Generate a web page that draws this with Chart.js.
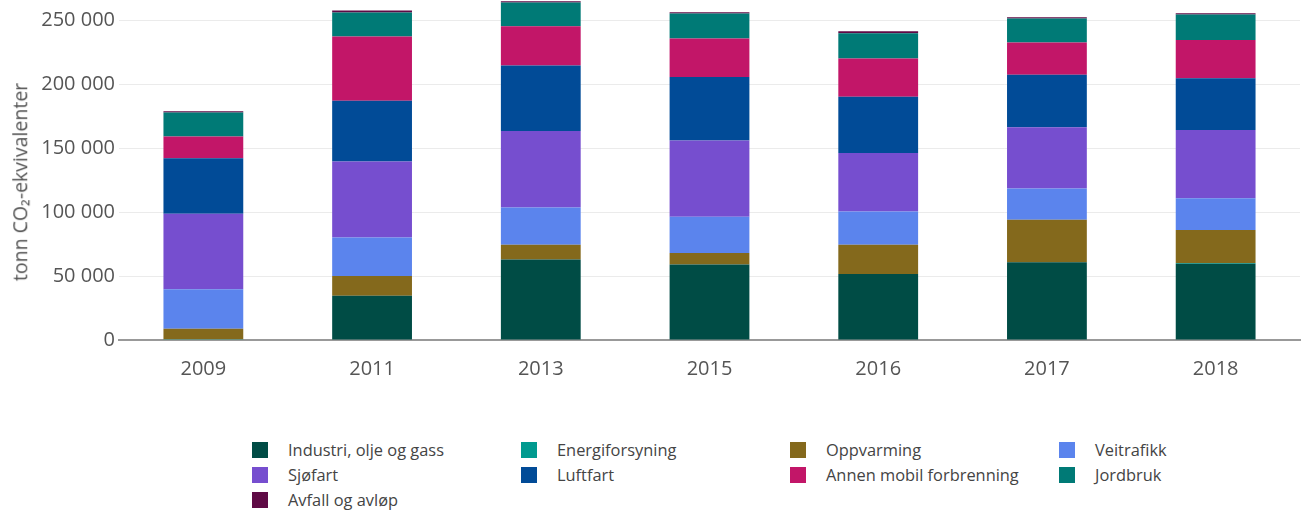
<!DOCTYPE html>
<html>
<head>
<meta charset="utf-8">
<script src="https://cdn.jsdelivr.net/npm/chart.js@4"></script>
<style>
  html, body { margin: 0; padding: 0; background: #fff; }
  #wrap { position: relative; width: 1305px; height: 512px; overflow: hidden; font-family: "Open Sans", sans-serif; }
  #cbox { position: absolute; left: 0; top: -15px; width: 1305px; height: 413px; }
  #ytitle { position: absolute; left: 20px; top: 182px; transform: translate(-50%, -50%) rotate(-90deg); font-size: 19.5px; color: #555; white-space: nowrap; line-height: 1; }
  #legend { position: absolute; left: 252px; top: 440px; display: grid; grid-template-columns: 269px 269px 269px 200px; row-gap: 6px; }
  .li { display: flex; align-items: center; height: 19px; font-size: 16.4px; color: #444; white-space: nowrap; }
  .sw { width: 16px; height: 16px; margin-right: 20px; flex: none; }
</style>
</head>
<body>
<div id="wrap">
  <div id="cbox"><canvas id="c"></canvas></div>
  <div id="ytitle">tonn CO₂-ekvivalenter</div>
  <div id="legend"></div>
</div>
<script>
const categories = ['2009', '2011', '2013', '2015', '2016', '2017', '2018'];
const seriesNames = ['Industri, olje og gass', 'Energiforsyning', 'Oppvarming', 'Veitrafikk', 'Sjøfart', 'Luftfart', 'Annen mobil forbrenning', 'Jordbruk', 'Avfall og avløp'];
const industri   = [0, 34600, 63000, 59100, 51600, 60700, 59600];
const energi     = [500, 0, 0, 0, 0, 0, 600];
const oppvarming = [8300, 15400, 11500, 8900, 22900, 33300, 25700];
const veitrafikk = [30800, 30200, 29100, 28300, 26000, 24500, 25000];
const sjofart    = [59100, 59400, 59700, 59700, 45600, 47900, 53200];
const luftfart   = [43300, 47400, 51300, 49500, 44000, 40900, 40600];
const annen      = [17100, 50300, 30700, 30200, 30000, 25300, 29900];
const jordbruk   = [18800, 18700, 18500, 19500, 19700, 18700, 19800];
const avfall     = [1000, 1600, 1000, 1000, 1600, 1000, 1100];
const yTicks = [0, 50000, 100000, 150000, 200000, 250000];
const colors = ['#004c45', '#009a8f', '#84691c', '#5b84ed', '#764ecf', '#014b97', '#c21668', '#007a76', '#5f0a45'];
const seriesValues = [industri, energi, oppvarming, veitrafikk, sjofart, luftfart, annen, jordbruk, avfall];

const datasets = seriesNames.map((n, i) => ({
  label: n,
  data: seriesValues[i],
  backgroundColor: colors[i],
  borderWidth: 0,
  categoryPercentage: 1,
  barPercentage: 0.473
}));

const fmt = v => String(v).replace(/\B(?=(\d{3})+(?!\d))/g, ' ');

new Chart(document.getElementById('c'), {
  type: 'bar',
  data: { labels: categories, datasets },
  options: {
    responsive: true,
    maintainAspectRatio: false,
    animation: false,
    layout: { padding: { left: 0, right: 5, top: 0, bottom: 0 } },
    plugins: { legend: { display: false }, tooltip: { enabled: false } },
    scales: {
      x: {
        stacked: true,
        grid: { display: false, drawTicks: false },
        border: { display: true, color: '#999', width: 2 },
        ticks: { padding: 17, color: '#555', font: { family: 'Open Sans', size: 20 } }
      },
      y: {
        stacked: true,
        min: 0,
        max: 265000,
        afterBuildTicks: s => { s.ticks = yTicks.map(v => ({ value: v })); },
        afterFit: s => { s.width = 119; },
        grid: { color: '#ebebeb', lineWidth: 1, drawTicks: false },
        border: { display: false },
        ticks: { padding: 4, color: '#555', font: { family: 'Open Sans', size: 20 }, callback: v => fmt(v) },
        title: { display: false }
      }
    }
  }
});

const lg = document.getElementById('legend');
seriesNames.forEach((n, i) => {
  const d = document.createElement('div');
  d.className = 'li';
  d.innerHTML = '<span class="sw" style="background:' + colors[i] + '"></span><span></span>';
  d.lastChild.textContent = n;
  lg.appendChild(d);
});
</script>
</body>
</html>
